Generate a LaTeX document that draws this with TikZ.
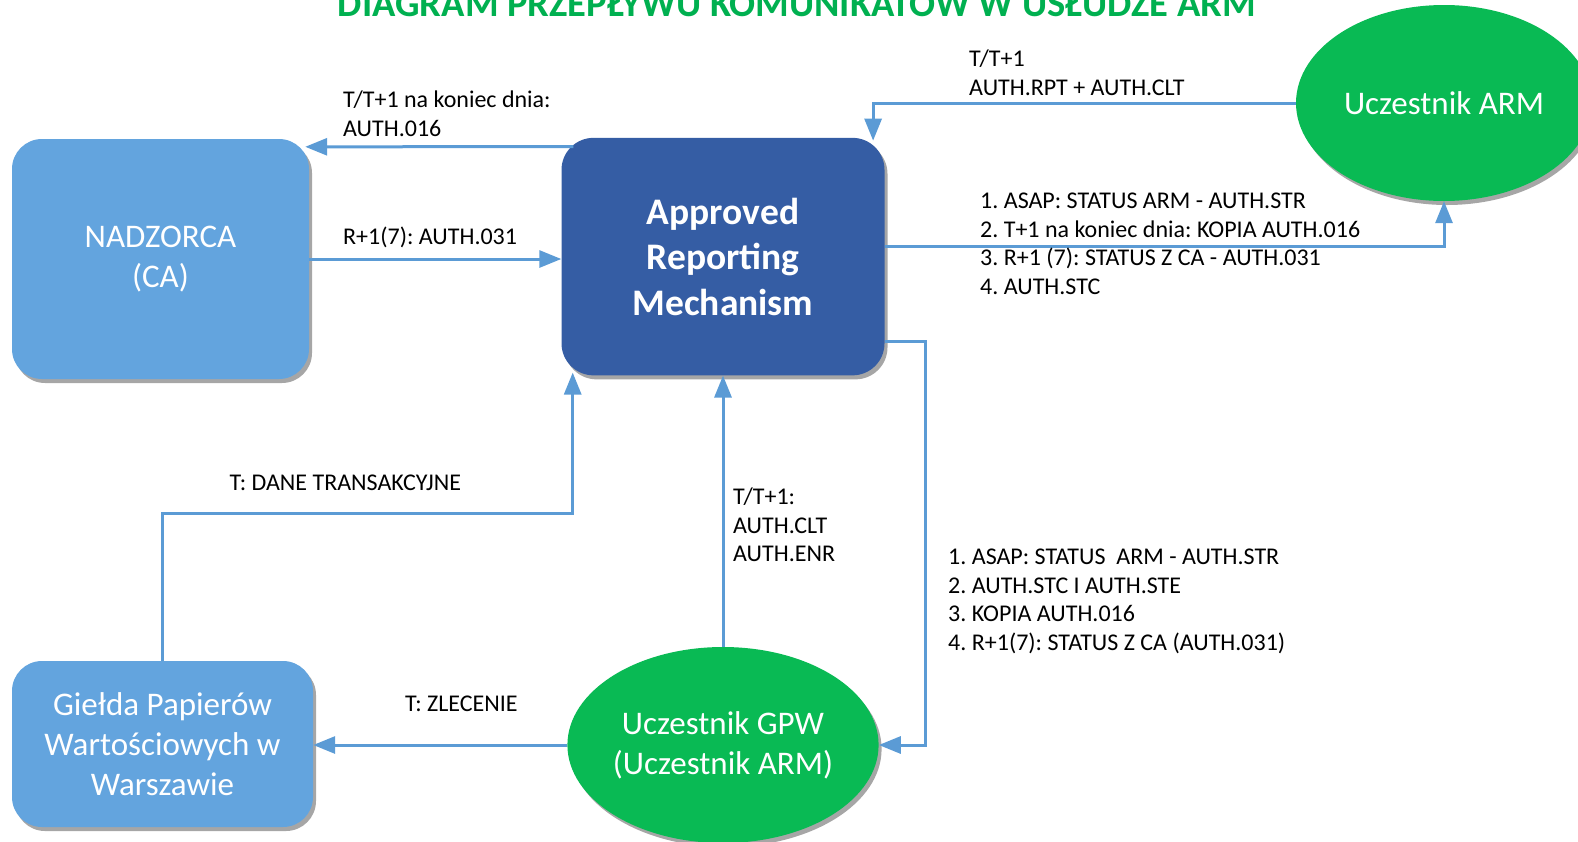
\documentclass[tikz,border=0pt]{standalone}
\usepackage{fontspec}
\setmainfont{Carlito}
\frenchspacing
\usetikzlibrary{arrows.meta,shapes.geometric,shadows}
\definecolor{lblue}{RGB}{99,164,222}
\definecolor{dblue}{RGB}{53,93,164}
\definecolor{egreen}{RGB}{9,186,84}
\definecolor{arrc}{RGB}{91,155,213}
\definecolor{tgreen}{RGB}{0,176,80}
\tikzset{
  shad/.style={drop shadow={shadow xshift=3pt,shadow yshift=-4pt,opacity=0.35,fill=black}},
  lbox/.style={shad,rectangle,rounded corners=30pt,fill=lblue,text=white,align=center,
    inner sep=0pt,font=\fontsize{33}{40}\selectfont},
  dbox/.style={shad,rectangle,rounded corners=32pt,fill=dblue,text=white,align=center,
    inner sep=0pt,font=\fontsize{37.5}{45.5}\selectfont\bfseries},
  gell/.style={shad,ellipse,fill=egreen,text=white,align=center,inner sep=0pt,
    minimum width=296pt,minimum height=196pt,font=\fontsize{33}{40}\selectfont},
  arr/.style={draw=arrc,line width=3pt,-{Triangle[width=17pt,length=22pt]}},
  lbl/.style={anchor=base west,align=left,inner sep=0pt,text=black,
    font=\fontsize{24}{28.6}\selectfont},
}
\begin{document}
\begin{tikzpicture}[x=1pt,y=-1pt]
\useasboundingbox (0,0) rectangle (1578,841);
% title
\node[anchor=base,inner sep=0pt,text=tgreen] (title) at (797,16)
  {\resizebox{918pt}{!}{\fontsize{40}{48}\selectfont\bfseries DIAGRAM PRZEPŁYWU KOMUNIKATÓW W USŁUDZE ARM}};
% nodes
\node[lbox,minimum width=297pt,minimum height=240pt] (nad) at (160.5,259) {NADZORCA\\(CA)};
\node[dbox,minimum width=323pt,minimum height=237.5pt] (arm) at (723,256.6) {Approved\\Reporting\\Mechanism};
\node[lbox,minimum width=301pt,minimum height=166pt] (gie) at (162.5,744) {Giełda Papierów\\Wartościowych w\\Warszawie};
\node[gell] (gpw) at (723,745) {Uczestnik GPW\\(Uczestnik ARM)};
\node[gell] (uarm) at (1444,103) {Uczestnik ARM};
% connectors
\draw[arr] ([xshift=12pt,yshift=-9pt]arm.north west) -- ([xshift=-4pt,yshift=-8pt]nad.north east);
\draw[arr] (nad.east) -- (nad.east -| arm.west);
\draw[arr] (uarm.west) -| ([xshift=-11.6pt,yshift=-3pt]arm.north east);
\draw[arr] ([yshift=10.6pt]arm.east) -| (uarm.south);
\draw[arr] ([yshift=-85pt]arm.east) -- ++(41,0) |- (gpw.east);
\draw[arr] (gpw.north) -- (arm.south);
\draw[arr] (gie.north) -- ++(0,-147) -| ([xshift=11.4pt,yshift=3pt]arm.south west);
\draw[arr] (gpw.west) -- (gpw.west -| gie.east);
% labels (anchor = baseline of last line)
\node[lbl] (l1) at (343,136.1) {T/T+1 na koniec dnia:\\AUTH.016};
\node[lbl] (l2) at (343,244.5) {R+1(7): AUTH.031};
\node[lbl] (l3) at (969,95.1) {T/T+1\\AUTH.RPT + AUTH.CLT};
\node[lbl] (l4) at (980,294.3) {1. ASAP: STATUS ARM - AUTH.STR\\2. T+1 na koniec dnia: KOPIA AUTH.016\\3. R+1 (7): STATUS Z CA - AUTH.031\\4. AUTH.STC};
\node[lbl] (l5) at (948,650.3) {1. ASAP: STATUS\ \ ARM - AUTH.STR\\2. AUTH.STC I AUTH.STE\\3. KOPIA AUTH.016\\4. R+1(7): STATUS Z CA (AUTH.031)};
\node[lbl] (l6) at (733,561.7) {T/T+1:\\AUTH.CLT\\AUTH.ENR};
\node[lbl] (l7) at (229.5,490) {T: DANE TRANSAKCYJNE};
\node[lbl] (l8) at (405,711.5) {T: ZLECENIE};
\end{tikzpicture}
\end{document}
